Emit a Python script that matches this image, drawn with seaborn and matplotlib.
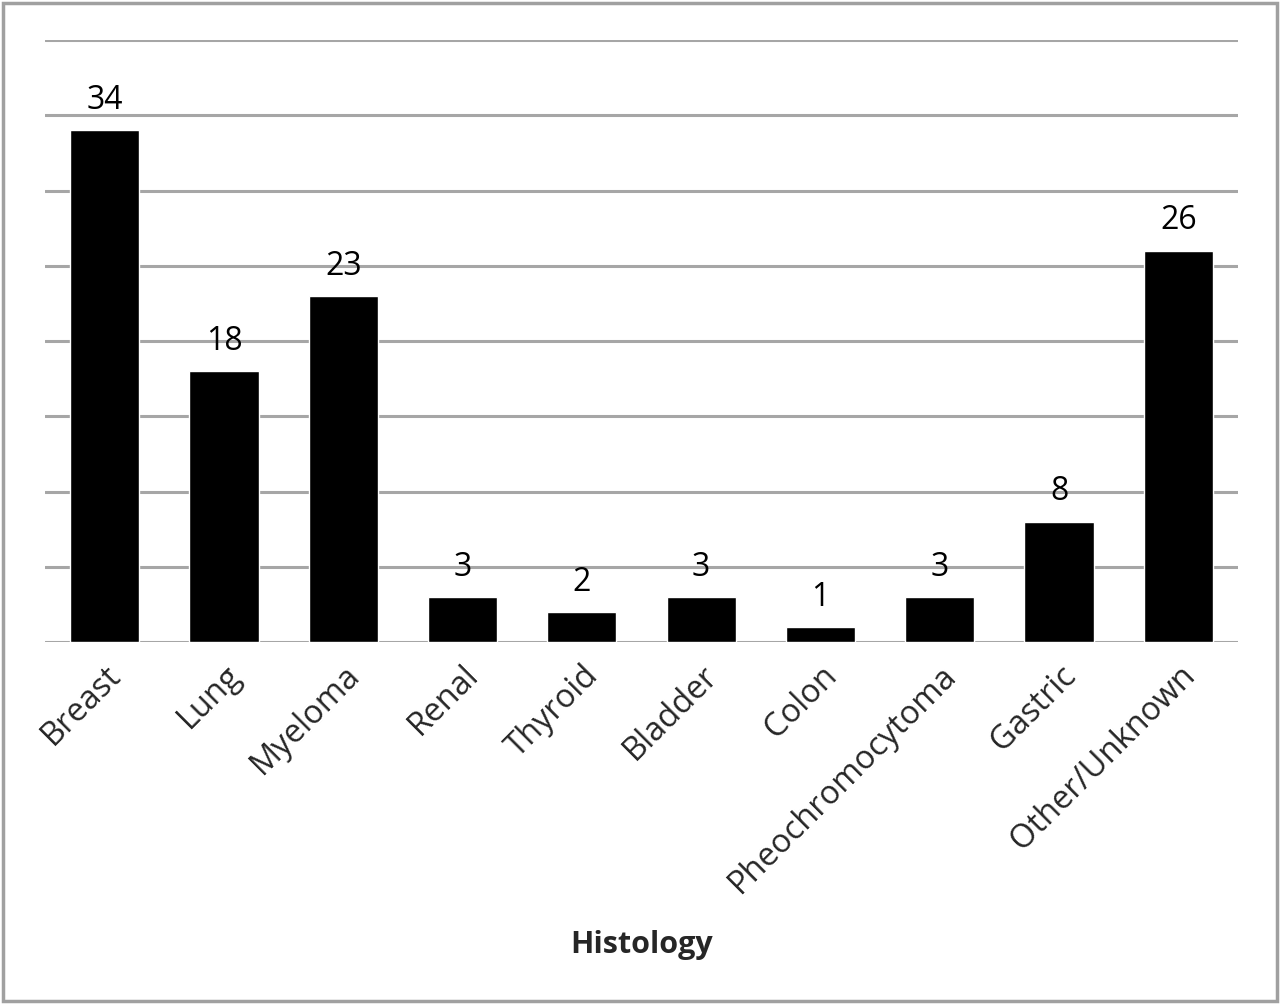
import matplotlib
matplotlib.use("Agg")
import matplotlib.pyplot as plt
import seaborn as sns
import pandas as pd
from matplotlib.patches import Rectangle

categories = ["Breast", "Lung", "Myeloma", "Renal", "Thyroid", "Bladder", "Colon",
              "Pheochromocytoma", "Gastric", "Other/Unknown"]
counts = [34, 18, 23, 3, 2, 3, 1, 3, 8, 26]
y_ticks = [0, 5, 10, 15, 20, 25, 30, 35, 40]
x_title = "Histology"

sns.set_theme(style="white")
plt.rcParams['font.family'] = ['Open Sans', 'DejaVu Sans']

df = pd.DataFrame({"Histology": categories, "Count": counts})

fig = plt.figure(figsize=(12.8, 10.05), dpi=100)
ax = fig.add_axes([0.0352, 0.361, 0.932, 0.599])

for y in y_ticks:
    ax.axhline(y, color="#a6a6a6", lw=2.2, zorder=0)

sns.barplot(data=df, x="Histology", y="Count", color="black", width=0.58,
            saturation=1, ax=ax, zorder=2)

for i, v in enumerate(counts):
    ax.text(i, v + 0.9, str(v), ha="center", va="bottom", fontsize=23, color="black")

ax.set_ylim(0, 40)
ax.set_xlim(-0.5, len(categories) - 0.5)
ax.set_yticks([])
ax.set_ylabel("")
ax.set_xlabel(x_title, fontsize=22, fontweight="bold", labelpad=22)
ax.tick_params(axis="x", length=0, pad=12)
for lab in ax.get_xticklabels():
    lab.set_rotation(45)
    lab.set_ha("right")
    lab.set_rotation_mode("anchor")
    lab.set_fontsize(23.5)
for s in ax.spines.values():
    s.set_visible(False)

fig.patches.append(Rectangle((0.0025, 0.004), 0.995, 0.993, transform=fig.transFigure,
                             fill=False, edgecolor="#a0a0a0", lw=2.5))

fig.savefig("out.png", dpi=100, facecolor="white")
